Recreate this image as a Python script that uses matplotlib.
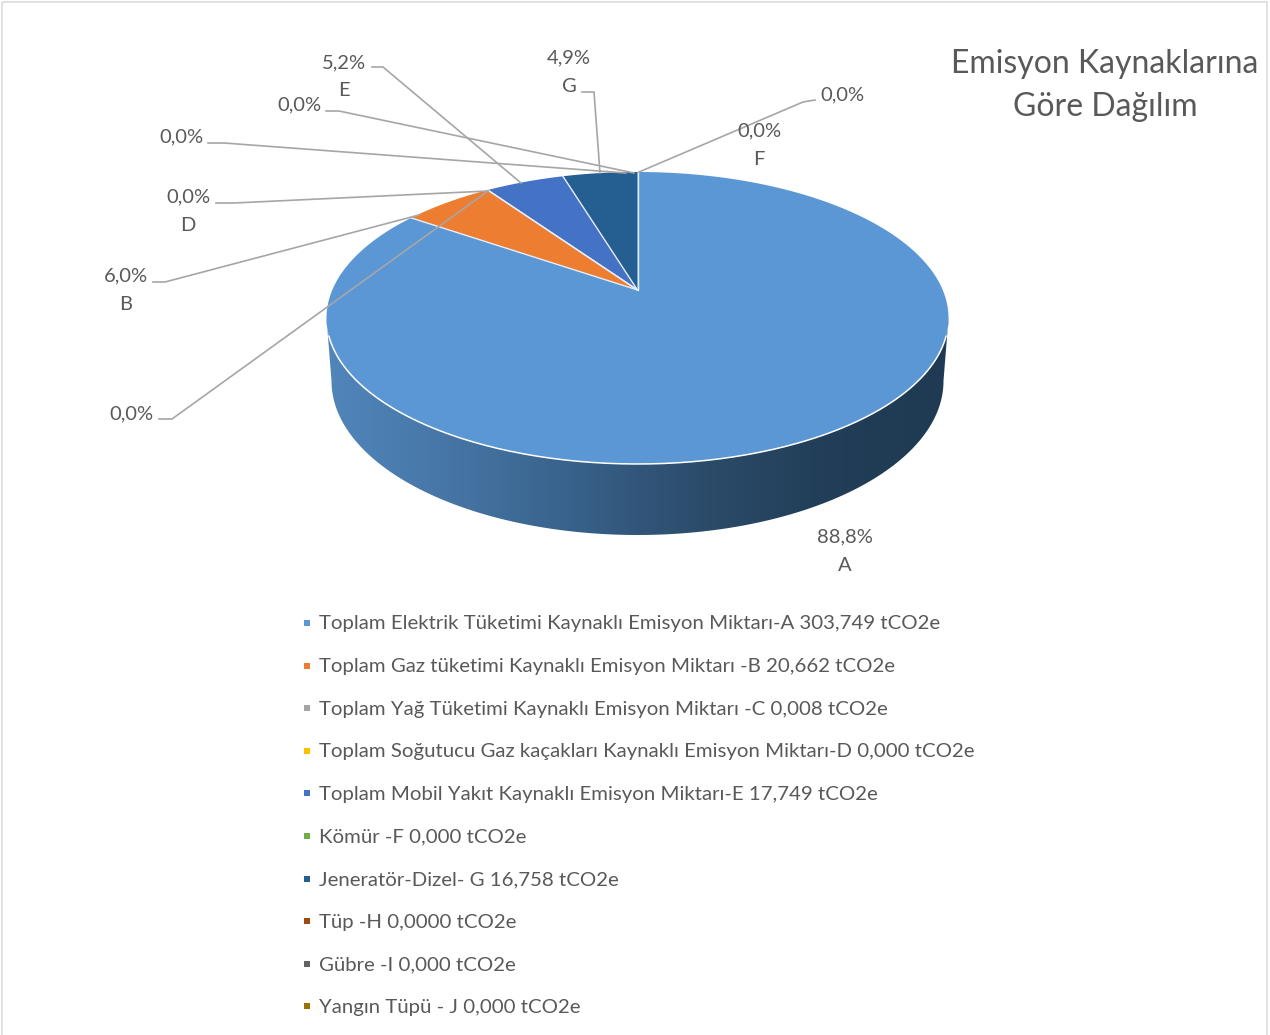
import matplotlib
matplotlib.use('Agg')
import matplotlib.pyplot as plt
from matplotlib.patches import Polygon, Rectangle
from matplotlib.colors import LinearSegmentedColormap
import numpy as np

# Values from the legend, tCO2e
values = [303.749, 20.662, 0.008, 0.0, 17.749, 0.0, 16.758, 0.0, 0.0, 0.0]
colors = ['#5b97d5', '#ed7d31', '#a5a5a5', '#ffc000', '#4472c4',
          '#70ad47', '#255e91', '#9e480e', '#636363', '#997300']
legend_labels = [
    'Toplam Elektrik Tüketimi Kaynaklı Emisyon Miktarı-A 303,749 tCO2e',
    'Toplam Gaz tüketimi Kaynaklı Emisyon Miktarı -B 20,662 tCO2e',
    'Toplam Yağ Tüketimi Kaynaklı Emisyon Miktarı -C 0,008 tCO2e',
    'Toplam Soğutucu Gaz kaçakları Kaynaklı Emisyon Miktarı-D 0,000 tCO2e',
    'Toplam Mobil Yakıt Kaynaklı Emisyon Miktarı-E 17,749 tCO2e',
    'Kömür -F 0,000 tCO2e',
    'Jeneratör-Dizel- G 16,758 tCO2e',
    'Tüp -H 0,0000 tCO2e',
    'Gübre -I 0,000 tCO2e',
    'Yangın Tüpü - J 0,000 tCO2e',
]
# The printed labels, which differ from the real shares of the values
pct_labels = ['88,8%\nA', '6,0%\nB', '0,0%', '0,0%\nD', '5,2%\nE',
              '0,0%\nF', '4,9%\nG', '0,0%', '0,0%', '0,0%']
label_x = [845, 126, 131, 188, 344, 759, 569, 181, 299, 842]
label_y = [551, 290, 414, 211, 76.5, 145, 72, 137, 105, 95]

plt.rcParams['font.family'] = ['Lato', 'DejaVu Sans']
text_color = '#595959'

fig = plt.figure(figsize=(12.7, 10.35), dpi=100)
ax = fig.add_axes([0, 0, 1, 1])
ax.set_xlim(0, 1270)
ax.set_ylim(1035, 0)
ax.axis('off')

ax.add_patch(Rectangle((1.5, 1.5), 1265, 1040, fill=False, edgecolor='#dcdcdc', lw=1.2))


def disc_point(angle, y_far, y_near, y_mid, rx, x_mid=637.5):
    # angle runs clockwise from the top of the pie, perspective as in Excel 3D
    c = (2 * y_mid - y_far - y_near) / (y_far - y_near)
    a = y_far * (1 + c) - y_mid
    r = rx * np.sqrt(1 - c ** 2)
    u = np.sin(angle)
    v = np.cos(angle)
    w = 1 + c * v
    return x_mid + r * u / w, (a * v + y_mid) / w


top_disc = (172, 464, 290, 311)
bottom_disc = (227, 535, 351.5, 306)

# Side wall with left to right shading
arc = np.radians(np.linspace(101, 259, 200))
tx, ty = disc_point(arc, *top_disc)
bx, by = disc_point(arc, *bottom_disc)
side = Polygon(np.column_stack([np.r_[tx, bx[::-1]], np.r_[ty, by[::-1]]]),
               closed=True, facecolor='none', edgecolor='none', transform=ax.transData)
ax.add_patch(side)
shade = LinearSegmentedColormap.from_list(
    'side', ['#5186bb', '#4675a5', '#38618a', '#2c4c6b', '#223e58', '#1f3a52'])
img = ax.imshow(np.linspace(0, 1, 256).reshape(1, -1), cmap=shade, aspect='auto',
                extent=(326, 949, 540, 300), zorder=1)
img.set_clip_path(side)
ax.set_xlim(0, 1270)
ax.set_ylim(1035, 0)

# Top face, slices go clockwise from twelve o'clock
shares = np.array(values) / sum(values) * 2 * np.pi
edges = np.r_[0, np.cumsum(shares)]
mx, my = 637.5, top_disc[2]
for i, color in enumerate(colors):
    if values[i] == 0:
        continue
    t = np.linspace(edges[i], edges[i + 1], 200)
    x, y = disc_point(t, *top_disc)
    ax.fill(np.r_[mx, x], np.r_[my, y], color=color, lw=0, zorder=2)
    ax.plot(np.r_[mx, x[0]], np.r_[my, y[0]], color='#e4eef8', lw=1, zorder=3)

# Light rim on the front of the top face
x, y = disc_point(np.radians(np.linspace(108, 252, 200)), *top_disc)
ax.plot(x, y, color='white', lw=1.1, zorder=3)

# Leader lines, label end to slice
leaders = [
    ([372, 383, 521], [67, 67, 183]),
    ([326, 339, 634], [111, 111, 173]),
    ([208, 224, 626], [143, 143, 173]),
    ([216, 234, 488], [203, 203, 191]),
    ([153, 165, 419], [282, 282, 215]),
    ([159, 172, 488], [419, 419, 191]),
    ([582, 594, 600], [92, 92, 173]),
    ([815, 803, 639], [100, 102, 172]),
]
for lx, ly in leaders:
    ax.plot(lx, ly, color='#a6a6a6', lw=1.2, zorder=4)

for s, lx, ly in zip(pct_labels, label_x, label_y):
    ax.text(lx, ly, s, ha='center', va='center', fontsize=14.5, color=text_color,
            linespacing=1.8, zorder=5)

ax.text(1105, 85.5, 'Emisyon Kaynaklarına\nGöre Dağılım', ha='center', va='center',
        fontsize=23, color=text_color, linespacing=1.55, zorder=5)

# Legend column
for i, (s, color) in enumerate(zip(legend_labels, colors)):
    row_y = 624 + i * 42.6
    ax.plot(306.5, row_y - 1, marker='s', ms=4.6, color=color, mew=0, zorder=5)
    ax.text(319, row_y, s, ha='left', va='center', fontsize=14.7, color=text_color, zorder=5)

fig.savefig('out.png', dpi=100)
